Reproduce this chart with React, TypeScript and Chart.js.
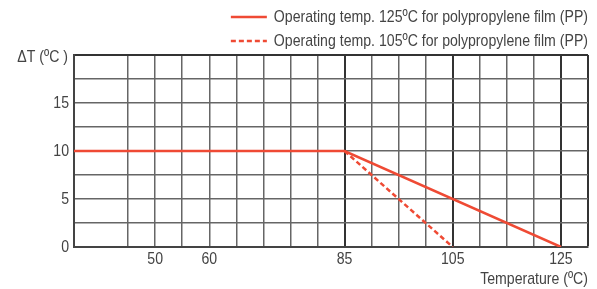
import React, { useEffect, useRef } from "react";
import { Chart, registerables } from "chart.js";

Chart.register(...registerables);

const solidX = [35, 85, 125];
const solidY = [10, 10, 0];
const dashedX = [85, 105];
const dashedY = [10, 0];
const seriesLabels = [
  "Operating temp. 125ºC for polypropylene film (PP)",
  "Operating temp. 105ºC for polypropylene film (PP)",
];
const xTickLabels = [50, 60, 85, 105, 125];
const yTickLabels = [0, 5, 10, 15];
const xMajorLines = [85, 105, 125, 130];
const xHiddenLines = [40];
const yTitle = "ΔT (ºC )";
const xTitle = "Temperature (ºC)";

const FONT = '"Liberation Sans", Arial, sans-serif';
const RED = "#ef4a34";
const TEXT = "#444444";
const SX = 0.83;

function drawText(ctx: CanvasRenderingContext2D, text: string, x: number, y: number, align: "left" | "right" | "center") {
  ctx.save();
  ctx.translate(x, y);
  ctx.scale(SX, 1);
  ctx.textAlign = align;
  ctx.textBaseline = "middle";
  ctx.fillText(text, 0, 0);
  ctx.restore();
}

const overlay = {
  id: "overlay",
  afterDraw(chart: any) {
    const { ctx, chartArea, scales } = chart;
    ctx.save();
    ctx.fillStyle = TEXT;
    ctx.font = `17px ${FONT}`;
    scales.x.ticks.forEach((t: any) => {
      if (xTickLabels.includes(t.value)) drawText(ctx, String(t.value), scales.x.getPixelForValue(t.value), chartArea.bottom + 12, "center");
    });
    scales.y.ticks.forEach((t: any) => {
      if (yTickLabels.includes(t.value)) drawText(ctx, String(t.value), chartArea.left - 5, scales.y.getPixelForValue(t.value), "right");
    });
    drawText(ctx, yTitle, chartArea.left - 6, chartArea.top + 2, "right");
    drawText(ctx, xTitle, chartArea.right, 279, "right");
    const ds = chart.data.datasets;
    let maxW = 0;
    ds.forEach((d: any) => (maxW = Math.max(maxW, ctx.measureText(d.label).width * SX)));
    const textX = chartArea.right - maxW;
    const rows = [17, 41];
    ds.forEach((d: any, i: number) => {
      const y = rows[i];
      ctx.save();
      ctx.strokeStyle = d.borderColor;
      ctx.lineWidth = d.borderWidth;
      ctx.setLineDash(d.borderDash || []);
      ctx.beginPath();
      ctx.moveTo(textX - 43, y);
      ctx.lineTo(textX - 7, y);
      ctx.stroke();
      ctx.restore();
      drawText(ctx, d.label, textX, y, "left");
    });
    ctx.restore();
  },
};

export default function App() {
  const ref = useRef<HTMLCanvasElement>(null);
  useEffect(() => {
    document.body.style.margin = "0";
    Chart.defaults.font.family = FONT;
    const chart = new Chart(ref.current!, {
      type: "line",
      data: {
        datasets: [
          {
            label: seriesLabels[0],
            data: solidX.map((x, i) => ({ x, y: solidY[i] })),
            borderColor: RED,
            borderWidth: 2.5,
            pointRadius: 0,
            fill: false,
          },
          {
            label: seriesLabels[1],
            data: dashedX.map((x, i) => ({ x, y: dashedY[i] })),
            borderColor: RED,
            borderWidth: 2.5,
            borderDash: [5, 3],
            pointRadius: 0,
            fill: false,
          },
        ],
      },
      options: {
        animation: false,
        responsive: false,
        layout: { padding: { left: 0, right: 9, top: 55, bottom: 0 } },
        plugins: { legend: { display: false }, tooltip: { enabled: false } },
        scales: {
          x: {
            type: "linear",
            min: 35,
            max: 130,
            afterFit: (s: any) => {
              s.height = 42;
            },
            ticks: { stepSize: 5, autoSkip: false, display: false },
            grid: {
              drawTicks: false,
              color: (c: any) => (xHiddenLines.includes(c.tick?.value) ? "rgba(0,0,0,0)" : xMajorLines.includes(c.tick?.value) ? "#333333" : "#666666"),
              lineWidth: (c: any) => (xMajorLines.includes(c.tick?.value) ? 2 : 1.5),
            },
            border: { display: true, color: "#444444", width: 2 },
          },
          y: {
            min: 0,
            max: 20,
            afterFit: (s: any) => {
              s.width = 74;
            },
            ticks: { stepSize: 2.5, display: false },
            grid: {
              drawTicks: false,
              color: (c: any) => (c.tick?.value === 20 ? "#333333" : "#666666"),
              lineWidth: (c: any) => (c.tick?.value === 20 ? 2 : 1.5),
            },
            border: { display: true, color: "#444444", width: 2 },
          },
        },
      },
      plugins: [overlay],
    });
    return () => chart.destroy();
  }, []);
  return (
    <div style={{ position: "absolute", left: 0, top: 0, width: 597, height: 289 }}>
      <canvas ref={ref} width={597} height={289} style={{ width: 597, height: 289 }} />
    </div>
  );
}
